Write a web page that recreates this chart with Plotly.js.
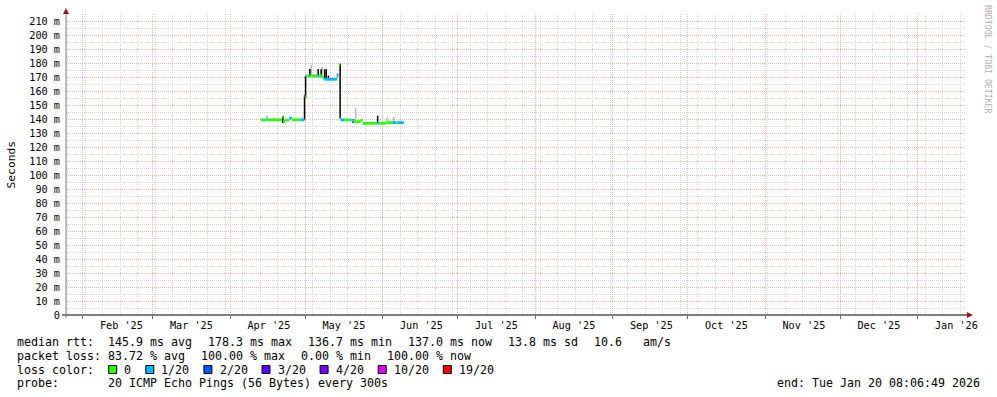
<!DOCTYPE html>
<html>
<head>
<meta charset="utf-8">
<script src="https://cdn.plot.ly/plotly-3.0.1.min.js"></script>
<style>
html,body{margin:0;padding:0;background:#fff;}
#chart{width:997px;height:397px;}
</style>
</head>
<body>
<div id="chart"></div>
<script>
// ---------------- data ----------------
// Median RTT samples: each sample lasts until the next sample time.
const sampleTimes = [
  '2025-04-13 05:00','2025-04-15 10:00','2025-04-16 00:00','2025-04-21 19:00','2025-04-22 05:00',
  '2025-04-23 00:00','2025-04-24 14:00','2025-04-25 19:00','2025-04-29 02:00','2025-04-30 19:00',
  '2025-05-01 05:00','2025-05-02 12:00','2025-05-03 00:00','2025-05-06 00:00','2025-05-06 14:00',
  '2025-05-07 19:00','2025-05-08 10:00','2025-05-13 19:00','2025-05-14 10:00','2025-05-15 00:00',
  '2025-05-15 05:00','2025-05-16 19:00','2025-05-19 00:00','2025-05-19 14:00','2025-05-20 05:00',
  '2025-05-20 19:00','2025-05-21 05:00','2025-05-23 05:00','2025-05-24 00:00','2025-05-29 19:00',
  '2025-05-30 10:00','2025-06-02 14:00','2025-06-04 19:00','2025-06-06 10:00','2025-06-07 00:00'
];
const seriesEnd = '2025-06-09 12:00';
const medianMs = [
  139.4,139.4,139.4,141.5,138.3,
  139.2,140.6,139.4,139.4,156.0,
  170.8,170.8,170.8,170.5,170.8,
  169.8,168.4,171.3,178.6,140.4,
  139.4,139.4,139.4,139.0,138.5,
  137.6,138.1,139.0,136.9,137.0,
  137.0,137.4,137.4,137.4,137.4
];
// lost pings out of 20 for each sample
const lossCount = [
  0,1,0,0,0,
  0,1,0,1,0,
  0,1,0,1,0,
  0,1,1,0,0,
  1,0,1,0,1,
  0,0,0,0,1,
  0,0,1,0,1
];
// Smoke (ping spread) spikes
const smokeTimes = [
  '2025-04-15 18:00','2025-04-22 02:00','2025-04-29 21:00','2025-04-30 18:00','2025-05-01 04:00',
  '2025-05-02 21:00','2025-05-03 10:00','2025-05-06 05:00','2025-05-07 10:00','2025-05-07 19:00',
  '2025-05-08 19:00','2025-05-09 10:00','2025-05-10 07:00','2025-05-13 19:00','2025-05-15 00:00',
  '2025-05-20 04:00','2025-05-21 05:00','2025-05-30 00:00','2025-06-02 18:00','2025-06-05 10:00'
];
const smokeLowMs = [
  139.4,137.2,139.4,139.4,155.0,
  170.8,170.8,170.5,169.8,170.0,
  168.4,168.4,168.4,169.0,140.4,
  137.2,138.1,137.0,137.4,137.4
];
const smokeHighMs = [
  142.9,142.1,140.8,157.0,170.8,
  175.7,178.8,175.7,175.5,177.2,
  175.5,175.5,171.0,172.8,179.4,
  140.0,147.6,142.4,141.2,141.6
];
const smokeShade = [
  'light','dark','light','dark','dark',
  'dark','light','dark','dark','light',
  'dark','dark','dark','light','dark',
  'dark','light','dark','light','light'
];

const lossLevels = [0, 1, 2, 3, 4, 10, 19];
const lossLabels = ['0', '1/20', '2/20', '3/20', '4/20', '10/20', '19/20'];
const lossColors = ['#26ff00', '#00b8ff', '#0059ff', '#5e00ff', '#7e00ff', '#dd00ff', '#ff0000'];

const monthStarts = ['2025-02-01','2025-03-01','2025-04-01','2025-05-01','2025-06-01','2025-07-01',
                     '2025-08-01','2025-09-01','2025-10-01','2025-11-01','2025-12-01','2026-01-01'];
const monthLabels = ["Feb '25","Mar '25","Apr '25","May '25","Jun '25","Jul '25",
                     "Aug '25","Sep '25","Oct '25","Nov '25","Dec '25","Jan '26"];
const yTickMs = [0,10,20,30,40,50,60,70,80,90,100,110,120,130,140,150,160,170,180,190,200,210];
const yTickLabels = yTickMs.map(v => v === 0 ? '0' : v + ' m');

const rangeStart = '2025-01-25 08:06:49';
const rangeEnd = '2026-01-20 08:06:49';

const rttLabel = 'median rtt:';
const rttItems = ['145.9 ms avg', '178.3 ms max', '136.7 ms min', '137.0 ms now', '13.8 ms sd', '10.6   am/s'];
const lossLabel = 'packet loss:';
const lossItems = ['83.72 % avg', '100.00 % max', '0.00 % min', '100.00 % now'];
const colorLabel = 'loss color:';
const probeLabel = 'probe:';
const probeText = '20 ICMP Echo Pings (56 Bytes) every 300s';
const endText = 'end: Tue Jan 20 08:06:49 2026';
const yTitle = 'Seconds';
const watermark = 'RRDTOOL / TOBI OETIKER';

// ---------------- build ----------------
const MONO = 'DejaVu Sans Mono';
const W = 997, H = 397;
const M = {l: 66, r: 31, t: 14, b: 82};
const PW = W - M.l - M.r, PH = H - M.t - M.b;
const px = x => (x - M.l) / PW;
const py = y => (H - M.b - y) / PH;
const nb = s => s.replace(/ /g, '\u00a0');
const DAY = 86400000;
// month labels sit in the middle of each month
const labelVals = monthStarts.map(d => new Date(new Date(d + 'T00:00:00Z').getTime() + 15.5 * DAY)
  .toISOString().slice(0, 19).replace('T', ' '));

function lossClass(n) {
  let c = 0;
  for (let k = 0; k < lossLevels.length; k++) if (n >= lossLevels[k]) c = k;
  return c;
}

const traces = [];
// invisible trace carrying the grid axis
traces.push({type: 'scatter', mode: 'lines', x: [rangeStart, rangeEnd], y: [null, null], xaxis: 'x2', yaxis: 'y',
  hoverinfo: 'skip', showlegend: false});
// smoke
['light', 'dark'].forEach(shade => {
  const xs = [], ys = [];
  smokeTimes.forEach((t, i) => {
    if (smokeShade[i] !== shade) return;
    xs.push(t, t, null);
    ys.push(smokeLowMs[i] / 1000, smokeHighMs[i] / 1000, null);
  });
  traces.push({type: 'scatter', mode: 'lines', x: xs, y: ys, hoverinfo: 'skip', showlegend: false,
    line: {color: shade === 'dark' ? '#000000' : '#b8b8b8', width: 1.5}});
});
// median line coloured by loss (one horizontal step per sample)
lossLevels.forEach((lv, k) => {
  const xs = [], ys = [];
  for (let i = 0; i < sampleTimes.length; i++) {
    if (lossClass(lossCount[i]) !== k) continue;
    xs.push(sampleTimes[i], i + 1 < sampleTimes.length ? sampleTimes[i + 1] : seriesEnd, null);
    ys.push(medianMs[i] / 1000, medianMs[i] / 1000, null);
  }
  if (xs.length) traces.push({type: 'scatter', mode: 'lines', x: xs, y: ys, hoverinfo: 'skip', showlegend: false,
    line: {color: lossColors[k], width: 2.8}});
});

const annotations = [];
const shapes = [];
const legendFont = {family: MONO, size: 11.63, color: '#000'};
const CW = 7.0;
function addText(x, y, text, anchor) {
  annotations.push({xref: 'paper', yref: 'paper', x: px(x), y: py(y), text: nb(text), showarrow: false,
    xanchor: anchor || 'left', yanchor: 'middle', borderpad: 0, font: legendFont});
}
const colX = 107.3, gap = 16;
addText(16, 341.5, rttLabel);
let cx = colX;
rttItems.forEach(s => { addText(cx, 341.5, s); cx += s.length * CW + gap; });
addText(16, 355.5, lossLabel);
cx = colX;
lossItems.forEach(s => { addText(cx, 355.5, s); cx += s.length * CW + gap; });
addText(16, 369.5, colorLabel);
cx = 108.7;
lossLabels.forEach((s, k) => {
  shapes.push({type: 'rect', xref: 'paper', yref: 'paper', x0: px(cx), x1: px(cx + 8), y0: py(373.5), y1: py(365.5),
    fillcolor: lossColors[k], line: {color: '#000', width: 1}});
  addText(cx + 14.6, 369.5, s);
  cx += 14.6 + s.length * CW + 15.5;
});
addText(16, 383, probeLabel);
addText(colX, 383, probeText);
addText(981, 383, endText, 'right');

annotations.push({xref: 'paper', yref: 'paper', x: px(11), y: py(164.5), text: yTitle, textangle: -90,
  showarrow: false, xanchor: 'center', yanchor: 'middle', borderpad: 0, font: {family: MONO, size: 11.3, color: '#000'}});
annotations.push({xref: 'paper', yref: 'paper', x: px(988), y: py(59), text: nb(watermark), textangle: 90,
  showarrow: false, xanchor: 'center', yanchor: 'middle', borderpad: 0, font: {family: MONO, size: 8.2, color: '#b0b0b0'}});

// axis lines and arrows
shapes.push({type: 'line', xref: 'paper', yref: 'paper', x0: px(62), x1: px(968), y0: 0, y1: 0,
  line: {color: '#000', width: 1}});
shapes.push({type: 'line', xref: 'paper', yref: 'paper', x0: 0, x1: 0, y0: py(318), y1: py(12),
  line: {color: '#808080', width: 1}});
shapes.push({type: 'path', xref: 'paper', yref: 'paper', xsizemode: 'pixel', ysizemode: 'pixel',
  xanchor: px(967), yanchor: 0, path: 'M0,-3 L6,0 L0,3 Z', fillcolor: '#901818', line: {width: 0}});
shapes.push({type: 'path', xref: 'paper', yref: 'paper', xsizemode: 'pixel', ysizemode: 'pixel',
  xanchor: 0, yanchor: py(14), path: 'M-3,0 L3,0 L0,6 Z', fillcolor: '#901818', line: {width: 0}});

const majorGrid = '#ebb2b2';
const minorGrid = '#d6d6d6';
const layout = {
  width: W, height: H,
  margin: M,
  paper_bgcolor: '#ffffff', plot_bgcolor: '#ffffff',
  showlegend: false,
  xaxis: {
    type: 'date', range: [rangeStart, rangeEnd], fixedrange: true,
    tickmode: 'array', tickvals: labelVals, ticktext: monthLabels,
    ticks: '', showgrid: false, zeroline: false, showline: false,
    ticklabelstandoff: 3,
    tickfont: {family: MONO, size: 10.2, color: '#000'}
  },
  xaxis2: {
    type: 'date', range: [rangeStart, rangeEnd], fixedrange: true, overlaying: 'x', side: 'bottom',
    tickmode: 'array', tickvals: monthStarts, showticklabels: false,
    ticks: 'outside', ticklen: 3, tickcolor: '#666', tickwidth: 1,
    showgrid: true, gridcolor: majorGrid, griddash: '1px,1px', gridwidth: 1,
    minor: {tickmode: 'linear', tick0: '2025-02-02', dtick: 7 * DAY, showgrid: true,
            gridcolor: minorGrid, griddash: '1px,1px', gridwidth: 1, ticks: ''},
    zeroline: false, showline: false
  },
  yaxis: {
    range: [0, 0.215], fixedrange: true,
    tickmode: 'array', tickvals: yTickMs.map(v => v / 1000), ticktext: yTickLabels,
    ticks: '', ticklabelstandoff: 5,
    showgrid: true, gridcolor: majorGrid, griddash: '1px,1px', gridwidth: 1,
    minor: {tickmode: 'linear', tick0: 0, dtick: 0.005, showgrid: true,
            gridcolor: minorGrid, griddash: '1px,1px', gridwidth: 1, ticks: ''},
    zeroline: false, showline: false,
    tickfont: {family: MONO, size: 10.2, color: '#000'}
  },
  annotations: annotations,
  shapes: shapes
};

Plotly.newPlot('chart', traces, layout, {displayModeBar: false, staticPlot: true});
</script>
</body>
</html>
